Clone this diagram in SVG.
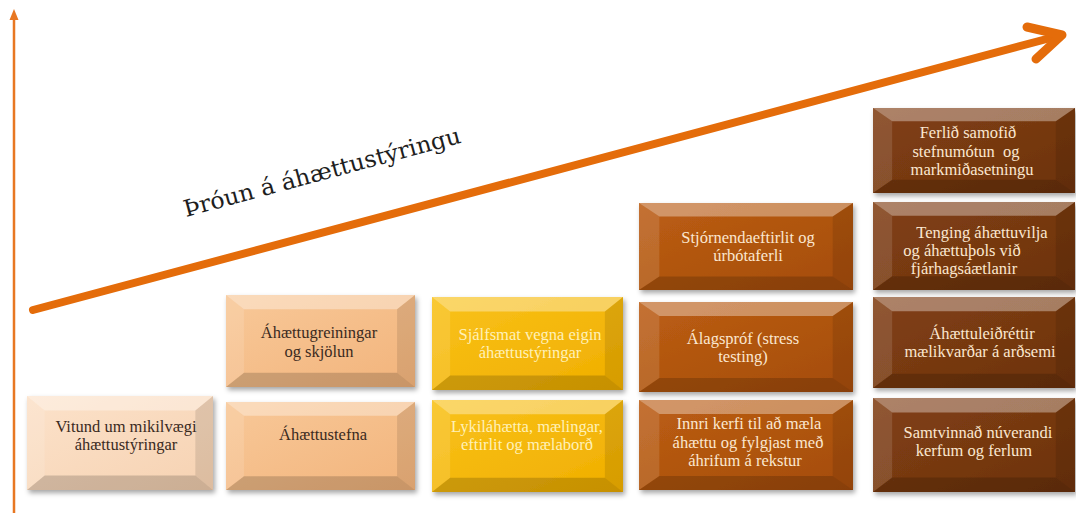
<svg xmlns="http://www.w3.org/2000/svg" xmlns:xlink="http://www.w3.org/1999/xlink" width="1076" height="513" viewBox="0 0 1076 513">
<defs>
  <filter id="sh" x="-10%" y="-10%" width="125%" height="130%">
    <feDropShadow dx="2" dy="3" stdDeviation="2.5" flood-color="#000" flood-opacity="0.35"/>
  </filter>
  <linearGradient id="g1" x1="0" y1="0" x2="1" y2="1"><stop offset="0" stop-color="#FCE2CA"/><stop offset="1" stop-color="#F6D2B2"/></linearGradient>
  <linearGradient id="g2" x1="0" y1="0" x2="1" y2="1"><stop offset="0" stop-color="#F8C898"/><stop offset="1" stop-color="#F2B47C"/></linearGradient>
  <linearGradient id="g3" x1="0" y1="0" x2="1" y2="1"><stop offset="0" stop-color="#F9C21A"/><stop offset="1" stop-color="#F0AE00"/></linearGradient>
  <linearGradient id="g4" x1="0" y1="0" x2="1" y2="1"><stop offset="0" stop-color="#BC5E14"/><stop offset="1" stop-color="#A44C0A"/></linearGradient>
  <linearGradient id="g5" x1="0" y1="0" x2="1" y2="1"><stop offset="0" stop-color="#824014"/><stop offset="1" stop-color="#6C320E"/></linearGradient>
  <symbol id="bevel" viewBox="0 0 200 90" preserveAspectRatio="none">
    <polygon points="0,0 200,0 181,14 19,14" fill="#fff" fill-opacity="0.35"/>
    <polygon points="0,0 19,14 19,76 0,90" fill="#fff" fill-opacity="0.12"/>
    <polygon points="200,0 200,90 181,76 181,14" fill="#000" fill-opacity="0.1"/>
    <polygon points="0,90 19,76 181,76 200,90" fill="#000" fill-opacity="0.17"/>
  </symbol>
</defs>
<style>
  .t { font-family: "Liberation Serif", "DejaVu Serif", serif; font-size: 16.5px; text-anchor: middle; }
  .dk { fill: #3A2A1E; }
  .yl { fill: #FFF1B8; }
  .lt { fill: #FBE7D0; }
  .box { filter: url(#sh); }
</style>
<rect width="1076" height="513" fill="#fff"/>

<g id="connectors">
  <line x1="14" y1="513" x2="14" y2="18" stroke="#E87722" stroke-width="2.5"/>
  <polygon points="14,9 9.5,20 18.5,20" fill="#E87722"/>
  <line x1="33" y1="310" x2="1058" y2="36" stroke="#E46C0A" stroke-width="8" stroke-linecap="round"/>
  <polyline points="1027,27 1062,35 1036,59" fill="none" stroke="#E46C0A" stroke-width="9" stroke-linecap="round" stroke-linejoin="round"/>
</g>

<g id="title">
  <text transform="translate(186,217) rotate(-15.1)" font-family="DejaVu Serif, Liberation Serif, serif" font-size="23" fill="#1E1E1E" textLength="286" lengthAdjust="spacingAndGlyphs">Þróun á áhættustýringu</text>
</g>

<g id="n1">
  <rect class="box" x="27" y="396" width="186" height="94" fill="url(#g1)"/>
  <use xlink:href="#bevel" x="27" y="396" width="186" height="94"/>
  <text class="t dk" x="126" y="432">Vitund um mikilvægi</text>
  <text class="t dk" x="126" y="450">áhættustýringar</text>
</g>

<g id="n2">
  <rect class="box" x="226" y="295" width="189" height="92" fill="url(#g2)"/>
  <use xlink:href="#bevel" x="226" y="295" width="189" height="92"/>
  <text class="t dk" x="319" y="338">Áhættugreiningar</text>
  <text class="t dk" x="319" y="357">og skjölun</text>
</g>
<g id="n3">
  <rect class="box" x="226" y="402" width="189" height="88" fill="url(#g2)"/>
  <use xlink:href="#bevel" x="226" y="402" width="189" height="88"/>
  <text class="t dk" x="323" y="440">Áhættustefna</text>
</g>

<g id="n4">
  <rect class="box" x="432" y="297" width="191" height="93" fill="url(#g3)"/>
  <use xlink:href="#bevel" x="432" y="297" width="191" height="93"/>
  <text class="t yl" x="530" y="340">Sjálfsmat vegna eigin</text>
  <text class="t yl" x="530" y="358">áhættustýringar</text>
</g>
<g id="n5">
  <rect class="box" x="432" y="400" width="191" height="92" fill="url(#g3)"/>
  <use xlink:href="#bevel" x="432" y="400" width="191" height="92"/>
  <text class="t yl" x="527" y="432">Lykiláhætta, mælingar,</text>
  <text class="t yl" x="527" y="450">eftirlit og mælaborð</text>
</g>

<g id="n6">
  <rect class="box" x="639" y="203" width="214" height="87" fill="url(#g4)"/>
  <use xlink:href="#bevel" x="639" y="203" width="214" height="87"/>
  <text class="t lt" x="748" y="243">Stjórnendaeftirlit og</text>
  <text class="t lt" x="748" y="261">úrbótaferli</text>
</g>
<g id="n7">
  <rect class="box" x="639" y="302" width="214" height="90" fill="url(#g4)"/>
  <use xlink:href="#bevel" x="639" y="302" width="214" height="90"/>
  <text class="t lt" x="743" y="344">Álagspróf (stress</text>
  <text class="t lt" x="743" y="362">testing)</text>
</g>
<g id="n8">
  <rect class="box" x="639" y="400" width="214" height="90" fill="url(#g4)"/>
  <use xlink:href="#bevel" x="639" y="400" width="214" height="90"/>
  <text class="t lt" x="749" y="429">Innri kerfi til að mæla</text>
  <text class="t lt" x="748" y="448">áhættu og fylgjast með</text>
  <text class="t lt" x="745" y="466">áhrifum á rekstur</text>
</g>

<g id="n9">
  <rect class="box" x="873" y="108" width="202" height="85" fill="url(#g5)"/>
  <use xlink:href="#bevel" x="873" y="108" width="202" height="85"/>
  <text class="t lt" x="968" y="138">Ferlið samofið</text>
  <text class="t lt" x="966" y="157" style="white-space:pre">stefnumótun  og</text>
  <text class="t lt" x="972" y="175">markmiðasetningu</text>
</g>
<g id="n10">
  <rect class="box" x="873" y="202" width="202" height="88" fill="url(#g5)"/>
  <use xlink:href="#bevel" x="873" y="202" width="202" height="88"/>
  <text class="t lt" x="982" y="238">Tenging áhættuvilja</text>
  <text class="t lt" x="962" y="256">og áhættuþols við</text>
  <text class="t lt" x="964" y="274">fjárhagsáætlanir</text>
</g>
<g id="n11">
  <rect class="box" x="873" y="297" width="202" height="91" fill="url(#g5)"/>
  <use xlink:href="#bevel" x="873" y="297" width="202" height="91"/>
  <text class="t lt" x="982" y="339">Áhættuleiðréttir</text>
  <text class="t lt" x="980" y="357">mælikvarðar á arðsemi</text>
</g>
<g id="n12">
  <rect class="box" x="873" y="398" width="202" height="94" fill="url(#g5)"/>
  <use xlink:href="#bevel" x="873" y="398" width="202" height="94"/>
  <text class="t lt" x="978" y="438">Samtvinnað núverandi</text>
  <text class="t lt" x="974" y="456">kerfum og ferlum</text>
</g>
</svg>
